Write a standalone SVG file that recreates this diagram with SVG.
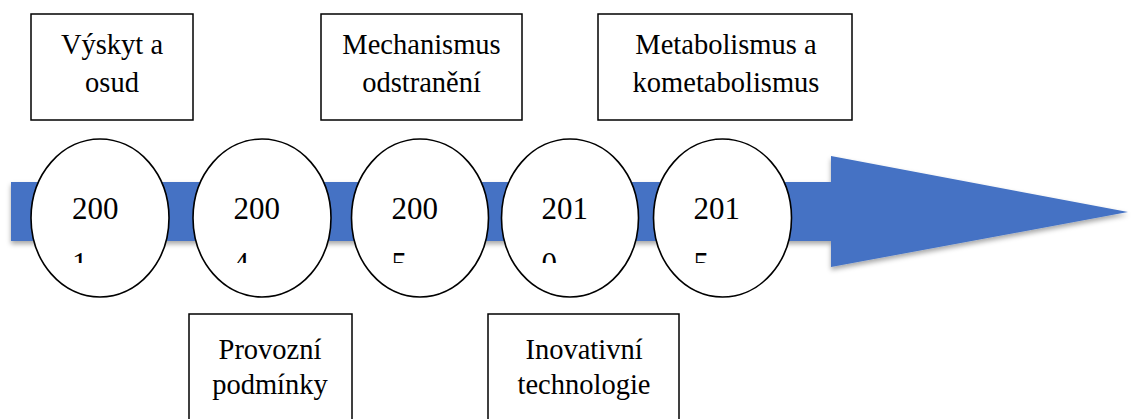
<svg xmlns="http://www.w3.org/2000/svg" width="1133" height="419" viewBox="0 0 1133 419">
  <style>
    .box { fill: #ffffff; stroke: #000000; stroke-width: 1.5; }
    .circ { fill: #ffffff; stroke: #000000; stroke-width: 1.6; }
    .lbl { font-size: 28.5px; fill: #000000; text-anchor: middle; }
    .yr { font-size: 31px; fill: #000000; }
    .arrow { fill: #4472C4; }
  </style>
  <defs>
    <filter id="shadow" x="-5%" y="-20%" width="110%" height="150%">
      <feDropShadow dx="0" dy="3" stdDeviation="2.5" flood-color="#000000" flood-opacity="0.35"/>
    </filter>
    <clipPath id="yrclip">
      <rect x="0" y="0" width="1133" height="263"/>
    </clipPath>
  </defs>

  <g id="connectors">
    <path id="timeline-arrow" class="arrow" filter="url(#shadow)" d="M11,182 L831,182 L831,156 L1128,212 L831,267 L831,241 L11,241 Z"/>
  </g>

  <g font-family="Liberation Serif, Tinos, Times New Roman, DejaVu Serif, serif">
  <g id="year-2001">
    <ellipse class="circ" cx="100" cy="218" rx="69" ry="79"/>
    <g clip-path="url(#yrclip)">
      <text class="yr" x="72" y="219">200</text>
      <text class="yr" x="72" y="274">1</text>
    </g>
  </g>
  <g id="year-2004">
    <ellipse class="circ" cx="262" cy="218" rx="69" ry="79"/>
    <g clip-path="url(#yrclip)">
      <text class="yr" x="233.5" y="219">200</text>
      <text class="yr" x="233.5" y="274">4</text>
    </g>
  </g>
  <g id="year-2005">
    <ellipse class="circ" cx="420" cy="218" rx="68.5" ry="79"/>
    <g clip-path="url(#yrclip)">
      <text class="yr" x="391.5" y="219">200</text>
      <text class="yr" x="391.5" y="274">5</text>
    </g>
  </g>
  <g id="year-2010">
    <ellipse class="circ" cx="570" cy="218" rx="68.5" ry="79"/>
    <g clip-path="url(#yrclip)">
      <text class="yr" x="541.5" y="219">201</text>
      <text class="yr" x="541.5" y="274">0</text>
    </g>
  </g>
  <g id="year-2015">
    <ellipse class="circ" cx="722.5" cy="218" rx="69" ry="79"/>
    <g clip-path="url(#yrclip)">
      <text class="yr" x="693.5" y="219">201</text>
      <text class="yr" x="693.5" y="274">5</text>
    </g>
  </g>

  <g id="box-vyskyt">
    <rect class="box" x="31" y="14" width="162" height="106"/>
    <text class="lbl" x="112" y="54">Výskyt a</text>
    <text class="lbl" x="112" y="92">osud</text>
  </g>
  <g id="box-mechanismus">
    <rect class="box" x="321" y="14" width="201" height="106"/>
    <text class="lbl" x="421.5" y="54">Mechanismus</text>
    <text class="lbl" x="421.5" y="92">odstranění</text>
  </g>
  <g id="box-metabolismus">
    <rect class="box" x="598" y="14" width="254" height="106"/>
    <text class="lbl" x="726" y="54">Metabolismus a</text>
    <text class="lbl" x="726" y="92">kometabolismus</text>
  </g>
  <g id="box-provozni">
    <rect class="box" x="189" y="314" width="163" height="120"/>
    <text class="lbl" x="270" y="359">Provozní</text>
    <text class="lbl" x="270" y="394">podmínky</text>
  </g>
  <g id="box-inovativni">
    <rect class="box" x="488" y="314" width="191" height="120"/>
    <text class="lbl" x="584" y="359">Inovativní</text>
    <text class="lbl" x="584" y="394">technologie</text>
  </g>
  </g>
</svg>
